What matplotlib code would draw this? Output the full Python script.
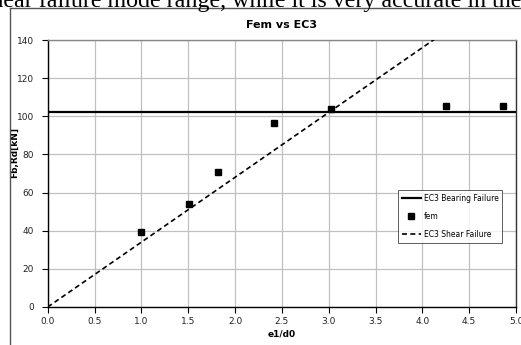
import numpy as np
import matplotlib
matplotlib.use("Agg")
import matplotlib.pyplot as plt
from matplotlib.lines import Line2D

# ---- data ----
fem_x = [1.0, 1.51, 1.82, 2.42, 3.03, 4.25, 4.86]
fem_y = [39.5, 54.0, 71.0, 96.6, 103.8, 105.6, 105.6]

bearing_x = [0.0, 5.0]
bearing_y = [102.0, 102.0]

shear_x = [0.0, 5.0]
shear_y = [0.0, 170.0]

xticks = [0.0, 0.5, 1.0, 1.5, 2.0, 2.5, 3.0, 3.5, 4.0, 4.5, 5.0]
yticks = [0, 20, 40, 60, 80, 100, 120, 140]

W, H = 521, 345
fig = plt.figure(figsize=(W / 100, H / 100), dpi=100)

# page text cut off above the chart
fig.text(521 / W, 1 - 6.5 / H, "shear failure mode range, while it is very accurate in the",
         ha="right", va="baseline", family="Liberation Serif", fontsize=17.3)

# chart frame (Excel chart area border)
fig.add_artist(Line2D([9.5 / W, 9.5 / W], [0, 1 - 8 / H], color="#555555", lw=1.0))
fig.add_artist(Line2D([9.5 / W, 1], [1 - 8 / H, 1 - 8 / H], color="#555555", lw=1.0))

left, right, top, bottom = 47.7, 516, 40, 307
ax = fig.add_axes([left / W, (H - bottom) / H, (right - left) / W, (bottom - top) / H])

ax.plot(bearing_x, bearing_y, color="black", lw=1.6, label="EC3 Bearing Failure", zorder=3)
ax.plot(fem_x, fem_y, ls="none", marker="s", ms=4.5, color="black", label="fem", zorder=4)
ax.plot(shear_x, shear_y, color="black", lw=1.2, ls=(0, (3, 2)), label="EC3 Shear Failure", zorder=3)

ax.set_xlim(0, 5)
ax.set_ylim(0, 140)
ax.set_xticks(xticks)
ax.set_yticks(yticks)
ax.set_xticklabels([f"{v:.1f}" for v in xticks])
ax.grid(True, color="#c0c0c0", lw=0.9)
ax.set_axisbelow(True)

ax.tick_params(axis="both", labelsize=6.5, direction="out", length=4, width=0.8,
               colors="black", labelcolor="#222222")
ax.tick_params(axis="y", pad=6)
ax.tick_params(axis="x", pad=3)

ax.spines["left"].set_color("black")
ax.spines["bottom"].set_color("black")
ax.spines["top"].set_color("#888888")
ax.spines["right"].set_color("#333333")
for s in ax.spines.values():
    s.set_linewidth(1.0)

ax.set_title("Fem vs EC3", fontsize=8, fontweight="bold", pad=9)
ax.set_xlabel("e1/d0", fontsize=6.5, fontweight="bold", labelpad=3)
ax.set_ylabel("Fb,Rd[kN]", fontsize=6.5, fontweight="bold")
ax.yaxis.set_label_coords((18.5 - left) / (right - left), (307 - 153) / (bottom - top))

leg = ax.legend(loc="upper left", bbox_to_anchor=((394 - left) / (right - left), (307 - 186) / (bottom - top)),
                fontsize=5.5, frameon=True, fancybox=False, edgecolor="#333333",
                handlelength=2.5, labelspacing=1.2, borderpad=0.5, handletextpad=0.4)
leg.get_frame().set_linewidth(0.7)

fig.savefig("out.png", dpi=100)
